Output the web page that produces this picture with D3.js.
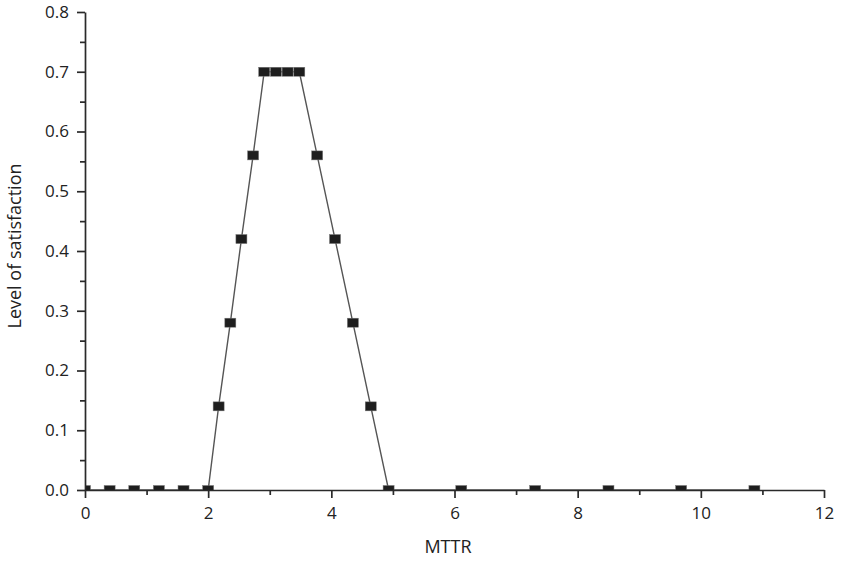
<!DOCTYPE html>
<html>
<head>
<meta charset="utf-8">
<script src="https://cdn.jsdelivr.net/npm/d3@7"></script>
<style>
  body { margin: 0; background: #fff; }
  text { font-family: "Open Sans", "Noto Sans", sans-serif; fill: #222; }
  .axis path, .axis line { stroke: #2a2a2a; stroke-width: 1.7; }
  .axis text { font-size: 17px; }
</style>
</head>
<body>
<script>
// values
var mttr = [0, 0.4, 0.8, 1.2, 1.6, 2.0, 2.17, 2.36, 2.54, 2.73, 2.91, 3.10, 3.29, 3.48,
            3.77, 4.06, 4.35, 4.64, 4.93, 6.11, 7.31, 8.5, 9.68, 10.87];
var satisfaction = [0, 0, 0, 0, 0, 0, 0.14, 0.28, 0.42, 0.56, 0.70, 0.70, 0.70, 0.70,
                    0.56, 0.42, 0.28, 0.14, 0, 0, 0, 0, 0, 0];
var xTicks = [0, 2, 4, 6, 8, 10, 12];
var xMinor = [1, 3, 5, 7, 9, 11];
var yTicks = [0, 0.1, 0.2, 0.3, 0.4, 0.5, 0.6, 0.7, 0.8];
var yMinor = [0.05, 0.15, 0.25, 0.35, 0.45, 0.55, 0.65, 0.75];

var width = 841,
    height = 561;
var plotLeft = 85, plotRight = 824, plotTop = 12, plotBottom = 490;

var svg = d3.select("body").append("svg")
    .attr("width", width)
    .attr("height", height);

var x = d3.scaleLinear().domain([0, 12]).range([plotLeft, plotRight]);
var y = d3.scaleLinear().domain([0, 0.8]).range([plotBottom, plotTop]);

svg.append("clipPath").attr("id", "plot")
  .append("rect")
    .attr("x", plotLeft).attr("y", plotTop)
    .attr("width", plotRight - plotLeft).attr("height", plotBottom - plotTop);

var pts = mttr.map(function(d, i) { return [d, satisfaction[i]]; });

var g = svg.append("g").attr("clip-path", "url(#plot)");

g.append("path")
    .datum(pts)
    .attr("fill", "none")
    .attr("stroke", "#555")
    .attr("stroke-width", 1.4)
    .attr("d", d3.line().x(function(d) { return x(d[0]); }).y(function(d) { return y(d[1]); }));

g.selectAll(".pt")
    .data(pts)
    .enter()
    .append("rect")
    .attr("class", "pt")
    .attr("x", function(d) { return x(d[0]) - 5.5; })
    .attr("y", function(d) { return y(d[1]) - 4.5; })
    .attr("width", 11)
    .attr("height", 9)
    .attr("fill", "#1e1e1e")
    .attr("stroke", "#777")
    .attr("stroke-width", 0.5);

// minor ticks
svg.append("g").attr("class", "axis")
    .attr("transform", "translate(0," + plotBottom + ")")
    .call(d3.axisBottom(x).tickValues(xMinor).tickSize(5).tickSizeOuter(0).tickFormat(""))
    .select(".domain").remove();
svg.append("g").attr("class", "axis")
    .attr("transform", "translate(" + plotLeft + ",0)")
    .call(d3.axisLeft(y).tickValues(yMinor).tickSize(5).tickSizeOuter(0).tickFormat(""))
    .select(".domain").remove();

// major axes
svg.append("g").attr("class", "axis")
    .attr("transform", "translate(0," + plotBottom + ")")
    .call(d3.axisBottom(x).tickValues(xTicks).tickSize(8).tickSizeOuter(0).tickPadding(9).tickFormat(d3.format("d")));

svg.append("g").attr("class", "axis")
    .attr("transform", "translate(" + plotLeft + ",0)")
    .call(d3.axisLeft(y).tickValues(yTicks).tickSize(8).tickSizeOuter(0).tickPadding(8).tickFormat(d3.format(".1f")));

svg.append("text")
    .attr("x", 448)
    .attr("y", 553)
    .attr("text-anchor", "middle")
    .style("font-size", "18px")
    .text("MTTR");

svg.append("text")
    .attr("transform", "translate(21,246) rotate(-90)")
    .attr("text-anchor", "middle")
    .style("font-size", "18px")
    .text("Level of satisfaction");
</script>
</body>
</html>
